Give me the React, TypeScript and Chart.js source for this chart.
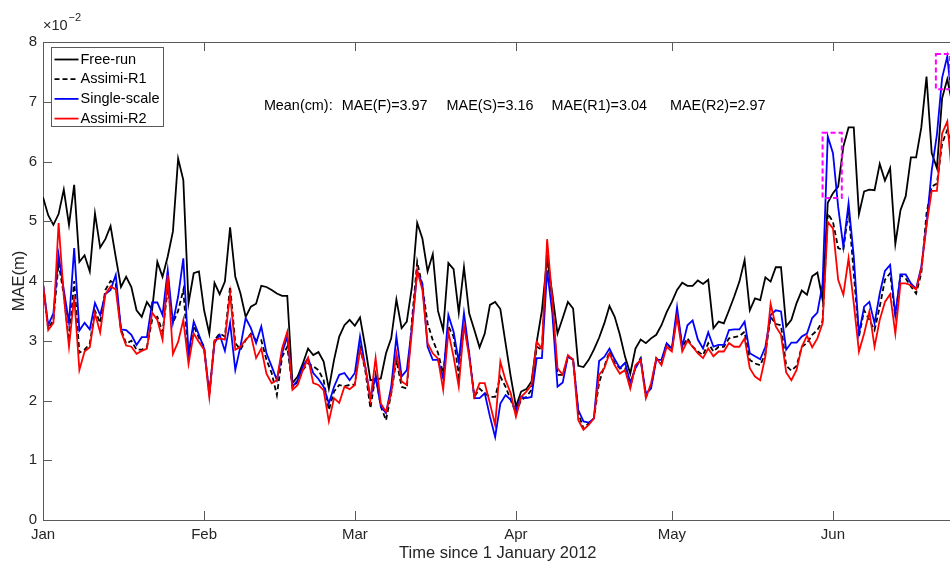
import React, { useEffect, useRef } from "react";
import { Chart, registerables } from "chart.js";

Chart.register(...registerables);

// ---------- data ----------
const MONTH_DAYS = [0, 31, 60, 91, 121, 152];
const MONTH_LABELS = ["Jan", "Feb", "Mar", "Apr", "May", "Jun"];
const SERIES_LABELS = ["Free-run", "Assimi-R1", "Single-scale", "Assimi-R2"];

// MAE values in units of 1e-2 m, one per day starting 1 January 2012
const freeRun = [
  5.40, 5.10, 4.94, 5.12, 5.53, 4.94, 5.61, 4.32, 4.43, 4.16,
  5.13, 4.56, 4.70, 4.92, 4.40, 3.90, 4.07, 3.90, 3.51, 3.40,
  3.65, 3.52, 4.32, 4.07, 4.41, 4.83, 6.05, 5.69, 3.63, 4.13,
  4.16, 3.51, 3.12, 3.97, 3.78, 3.99, 4.90, 4.07, 3.79, 3.40,
  3.57, 3.62, 3.92, 3.90, 3.85, 3.79, 3.75, 3.75, 2.29, 2.40,
  2.62, 2.87, 2.76, 2.81, 2.65, 2.20, 2.68, 3.07, 3.26, 3.35,
  3.25, 3.39, 2.90, 2.34, 2.35, 2.37, 2.79, 3.04, 3.69, 3.21,
  3.32, 3.91, 4.97, 4.71, 4.16, 4.45, 3.50, 3.18, 4.30, 4.20,
  3.47, 4.23, 3.46, 3.18, 2.89, 3.12, 3.60, 3.65, 3.53, 2.96,
  2.40, 1.90, 2.15, 2.19, 2.32, 2.98, 3.51, 4.38, 3.79, 3.12,
  3.38, 3.65, 3.54, 2.58, 2.56, 2.68, 2.85, 3.05, 3.29, 3.58,
  3.40, 3.10, 2.73, 2.45, 2.87, 3.02, 2.96, 3.04, 3.10, 3.26,
  3.48, 3.65, 3.85, 3.97, 3.92, 3.92, 4.01, 3.95, 4.02, 3.21,
  3.32, 3.29, 3.51, 3.74, 3.99, 4.35, 3.51, 3.71, 3.68, 4.06,
  3.99, 4.23, 4.23, 3.24, 3.35, 3.63, 3.84, 3.77, 4.08, 4.14,
  3.69, 5.31, 5.47, 5.58, 6.25, 6.57, 6.57, 5.12, 5.50, 5.53,
  5.52, 5.96, 5.68, 5.89, 4.62, 5.19, 5.42, 6.07, 6.07, 6.57,
  7.42, 6.14, 5.89, 7.06, 7.38, 6.95,
];

const assimiR1 = [
  3.95, 3.20, 3.35, 4.30, 3.77, 3.00, 4.00, 2.80, 2.85, 2.95,
  3.50, 3.30, 3.85, 4.00, 3.95, 3.20, 2.95, 3.00, 2.85, 2.85,
  2.90, 3.35, 3.40, 3.15, 3.85, 3.30, 3.50, 3.85, 2.70, 3.25,
  3.05, 2.90, 2.09, 3.01, 3.12, 3.07, 3.91, 2.96, 2.85, 3.01,
  3.12, 3.01, 3.01, 2.68, 2.46, 2.09, 2.73, 2.90, 2.23, 2.31,
  2.51, 2.62, 2.57, 2.51, 2.34, 1.84, 2.15, 2.26, 2.24, 2.26,
  2.27, 2.90, 2.51, 1.87, 2.43, 1.90, 1.67, 2.12, 2.68, 2.23,
  2.20, 3.35, 4.32, 3.91, 3.29, 3.01, 2.80, 2.45, 3.24, 3.07,
  2.40, 3.26, 2.79, 2.06, 2.20, 2.12, 2.06, 2.06, 2.40, 2.23,
  2.01, 1.79, 2.01, 2.06, 2.18, 2.90, 2.85, 4.52, 3.63, 2.43,
  2.43, 2.73, 2.68, 1.79, 1.53, 1.62, 1.70, 2.30, 2.57, 2.82,
  2.62, 2.54, 2.54, 2.23, 2.57, 2.71, 2.06, 2.23, 2.71, 2.62,
  2.96, 2.85, 3.46, 2.90, 3.04, 2.90, 2.82, 2.76, 2.96, 2.82,
  2.90, 2.90, 3.04, 3.06, 3.08, 3.15, 2.68, 2.62, 2.59, 2.79,
  3.40, 3.28, 3.26, 2.58, 2.50, 2.58, 2.90, 2.96, 3.10, 3.18,
  3.33, 5.13, 4.99, 4.55, 4.52, 5.19, 4.13, 3.07, 3.51, 3.35,
  3.18, 3.57, 4.02, 4.13, 3.40, 4.10, 4.04, 3.91, 3.79, 4.13,
  5.13, 5.58, 5.63, 6.30, 6.53, 6.20,
];

const singleScale = [
  3.95, 3.26, 3.46, 4.44, 3.85, 3.30, 4.55, 3.17, 3.30, 3.19,
  3.63, 3.43, 3.78, 3.85, 4.10, 3.19, 3.18, 3.10, 2.93, 3.06,
  3.06, 3.64, 3.64, 3.43, 4.18, 3.30, 3.74, 4.38, 2.79, 3.32,
  3.10, 2.87, 2.12, 2.96, 3.10, 2.83, 3.30, 2.51, 2.91, 3.38,
  3.21, 2.96, 3.24, 2.79, 2.57, 2.34, 2.79, 3.07, 2.23, 2.34,
  2.57, 2.71, 2.46, 2.36, 2.23, 1.95, 2.23, 2.43, 2.46, 2.34,
  2.46, 3.07, 2.57, 2.04, 2.40, 1.90, 1.79, 2.23, 3.07, 2.40,
  2.51, 3.24, 4.16, 3.96, 2.90, 2.68, 2.68, 2.37, 3.43, 3.15,
  2.65, 3.46, 2.79, 2.04, 2.04, 2.12, 1.73, 1.39, 1.95, 2.09,
  2.01, 1.84, 2.06, 2.04, 2.06, 2.71, 2.71, 4.18, 3.46, 2.23,
  2.30, 2.74, 2.69, 1.84, 1.65, 1.63, 1.70, 2.66, 2.73, 2.87,
  2.69, 2.54, 2.63, 2.30, 2.54, 2.69, 2.12, 2.20, 2.68, 2.68,
  2.96, 2.87, 3.56, 2.90, 3.26, 3.34, 3.02, 2.87, 3.14, 2.90,
  2.93, 2.93, 3.18, 3.19, 3.19, 3.32, 2.79, 2.74, 2.69, 2.90,
  3.43, 3.51, 3.49, 2.85, 2.97, 2.97, 3.07, 3.12, 3.38, 3.47,
  3.95, 6.42, 6.14, 5.24, 4.57, 5.30, 4.41, 3.12, 3.57, 3.65,
  3.29, 3.79, 4.17, 4.27, 3.43, 4.11, 4.11, 3.96, 3.87, 4.24,
  4.94, 5.85, 6.45, 7.40, 7.76, 6.90,
];

const assimiR2 = [
  3.95, 3.18, 3.30, 4.97, 3.75, 2.90, 3.74, 2.51, 2.82, 2.89,
  3.46, 3.14, 3.78, 3.91, 3.86, 3.16, 2.92, 2.90, 2.78, 2.83,
  2.87, 3.47, 3.35, 3.02, 4.10, 2.78, 2.98, 3.35, 2.61, 3.12,
  2.98, 2.85, 2.06, 3.01, 3.04, 3.02, 3.79, 2.85, 2.90, 3.02,
  3.10, 2.71, 2.87, 2.45, 2.29, 2.34, 2.87, 3.15, 2.18, 2.26,
  2.51, 2.71, 2.29, 2.26, 2.17, 1.65, 2.04, 1.96, 2.23, 2.19,
  2.26, 2.85, 2.57, 2.01, 2.71, 1.95, 1.81, 2.12, 2.79, 2.32,
  2.26, 3.18, 4.18, 3.85, 2.96, 2.79, 2.70, 2.18, 3.15, 2.73,
  2.23, 3.26, 2.73, 2.06, 2.29, 2.29, 1.95, 1.59, 2.65, 2.34,
  2.12, 1.73, 2.06, 2.15, 2.26, 2.98, 2.87, 4.70, 3.68, 2.54,
  2.43, 2.76, 2.68, 1.67, 1.51, 1.59, 1.70, 2.43, 2.54, 2.79,
  2.59, 2.45, 2.51, 2.20, 2.59, 2.68, 2.04, 2.29, 2.71, 2.59,
  2.90, 2.82, 3.40, 2.82, 3.00, 2.90, 2.79, 2.71, 2.87, 2.74,
  2.82, 2.82, 2.96, 2.90, 2.90, 3.04, 2.54, 2.40, 2.34, 2.74,
  3.62, 3.24, 3.10, 2.47, 2.34, 2.51, 2.90, 3.08, 2.89, 3.04,
  3.29, 4.99, 4.88, 4.02, 3.77, 4.38, 3.63, 2.82, 3.12, 3.49,
  2.90, 3.35, 3.65, 3.78, 3.12, 3.96, 3.96, 3.93, 3.86, 4.20,
  4.93, 5.51, 5.51, 6.47, 6.67, 5.66,
];

const MEAN_TEXT = ["Mean(cm):", "MAE(F)=3.97", "MAE(S)=3.16", "MAE(R1)=3.04", "MAE(R2)=2.97"];
const MEAN_ANCHOR = { day: 42.5, value: 6.92 };
const HIGHLIGHT_BOXES = [
  { x0: 150.0, x1: 153.7, y0: 5.39, y1: 6.48 },
  { x0: 171.8, x1: 174.5, y0: 7.21, y1: 7.8 },
];

// ---------- style ----------
const FONT = "'Liberation Sans', Arial, Helvetica, sans-serif";
const AXIS = "#5a5a5a";
const TEXT = "#262626";

const toXY = (arr: number[]) => arr.map((v, i) => ({ x: i, y: v }));

const decorPlugin = {
  id: "decor",
  afterDraw(chart: any) {
    const { ctx, chartArea, scales } = chart;
    const { left, right, top, bottom } = chartArea;
    const xs = scales.x;
    const ys = scales.y;
    ctx.save();

    // top border
    ctx.strokeStyle = AXIS;
    ctx.lineWidth = 1;
    ctx.setLineDash([]);
    ctx.beginPath();
    ctx.moveTo(left, Math.round(top) + 0.5);
    ctx.lineTo(right, Math.round(top) + 0.5);
    ctx.stroke();

    // inward ticks
    const TL = 9;
    ctx.beginPath();
    for (const t of xs.ticks) {
      const px = Math.round(xs.getPixelForValue(t.value)) + 0.5;
      ctx.moveTo(px, bottom);
      ctx.lineTo(px, bottom - TL);
      ctx.moveTo(px, top);
      ctx.lineTo(px, top + TL);
    }
    for (const t of ys.ticks) {
      const py = Math.round(ys.getPixelForValue(t.value)) + 0.5;
      ctx.moveTo(left, py);
      ctx.lineTo(left + TL, py);
    }
    ctx.stroke();

    // exponent label
    ctx.fillStyle = TEXT;
    ctx.textAlign = "left";
    ctx.textBaseline = "alphabetic";
    ctx.font = `14.5px ${FONT}`;
    const base = "\u00d710";
    ctx.fillText(base, left, 30);
    const bw = ctx.measureText(base).width;
    ctx.font = `11px ${FONT}`;
    ctx.fillText("\u22122", left + bw + 1, 21);

    // mean annotation
    ctx.font = `14.4px ${FONT}`;
    ctx.textBaseline = "middle";
    ctx.fillStyle = "#000";
    const gaps = [9, 19, 18, 23];
    let tx = xs.getPixelForValue(MEAN_ANCHOR.day);
    const ty = ys.getPixelForValue(MEAN_ANCHOR.value);
    MEAN_TEXT.forEach((s, i) => {
      ctx.fillText(s, tx, ty);
      tx += ctx.measureText(s).width + (gaps[i] || 0);
    });

    // highlight boxes
    ctx.strokeStyle = "#ff00ff";
    ctx.lineWidth = 2;
    ctx.setLineDash([5, 3]);
    for (const b of HIGHLIGHT_BOXES) {
      const x0 = xs.getPixelForValue(b.x0);
      const x1 = xs.getPixelForValue(b.x1);
      const y0 = ys.getPixelForValue(b.y0);
      const y1 = ys.getPixelForValue(b.y1);
      ctx.strokeRect(x0, y1, x1 - x0, y0 - y1);
    }
    ctx.setLineDash([]);

    // legend
    const lx = Math.round(left + 8) + 0.5;
    const ly = Math.round(top + 5) + 0.5;
    const lw = 112;
    const lh = 79;
    ctx.fillStyle = "#fff";
    ctx.fillRect(lx, ly, lw, lh);
    ctx.strokeStyle = AXIS;
    ctx.lineWidth = 1;
    ctx.strokeRect(lx, ly, lw, lh);
    ctx.font = `14.5px ${FONT}`;
    ctx.textBaseline = "middle";
    SERIES_LABELS.forEach((label, i) => {
      const ds = chart.data.datasets.find((d: any) => d.label === label);
      const ry = ly + 12 + i * 19.7;
      ctx.strokeStyle = ds.borderColor;
      ctx.lineWidth = ds.borderWidth;
      ctx.setLineDash(ds.borderDash || []);
      ctx.beginPath();
      ctx.moveTo(lx + 3, ry);
      ctx.lineTo(lx + 27, ry);
      ctx.stroke();
      ctx.setLineDash([]);
      ctx.fillStyle = "#000";
      ctx.fillText(label, lx + 29, ry);
    });

    ctx.restore();
  },
};

export default function App() {
  const canvasRef = useRef<HTMLCanvasElement | null>(null);

  useEffect(() => {
    const canvas = canvasRef.current;
    if (!canvas) return;
    const chart = new Chart(canvas, {
      type: "line",
      data: {
        datasets: [
          {
            label: SERIES_LABELS[0],
            data: toXY(freeRun),
            borderColor: "#000000",
            borderWidth: 1.8,
            pointRadius: 0,
            tension: 0,
            order: 4,
          },
          {
            label: SERIES_LABELS[1],
            data: toXY(assimiR1),
            borderColor: "#000000",
            borderWidth: 1.8,
            borderDash: [5, 3],
            pointRadius: 0,
            tension: 0,
            order: 3,
          },
          {
            label: SERIES_LABELS[2],
            data: toXY(singleScale),
            borderColor: "#0000ff",
            borderWidth: 1.8,
            pointRadius: 0,
            tension: 0,
            order: 2,
          },
          {
            label: SERIES_LABELS[3],
            data: toXY(assimiR2),
            borderColor: "#ff0000",
            borderWidth: 1.8,
            pointRadius: 0,
            tension: 0,
            order: 1,
          },
        ],
      },
      options: {
        animation: false,
        responsive: false,
        devicePixelRatio: 1,
        layout: { padding: { left: 0, right: 7.5, top: 42, bottom: 0 } },
        plugins: { legend: { display: false }, tooltip: { enabled: false } },
        scales: {
          x: {
            type: "linear",
            min: 0,
            max: 175,
            afterBuildTicks: (s: any) => {
              s.ticks = MONTH_DAYS.map((v) => ({ value: v }));
            },
            afterFit: (s: any) => {
              s.height = 43;
            },
            ticks: {
              autoSkip: false,
              maxRotation: 0,
              padding: 6,
              color: TEXT,
              font: { family: FONT, size: 15 },
              callback: (v: any) => {
                const i = MONTH_DAYS.indexOf(Number(v));
                return i >= 0 ? MONTH_LABELS[i] : "";
              },
            },
            grid: { display: false, drawTicks: false },
            border: { display: true, color: AXIS, width: 1 },
            title: {
              display: true,
              text: "Time since 1 January 2012",
              color: TEXT,
              font: { family: FONT, size: 16.5 },
              padding: { top: 0, bottom: 0 },
            },
          },
          y: {
            min: 0,
            max: 8,
            afterFit: (s: any) => {
              s.width = 43;
            },
            ticks: {
              stepSize: 1,
              padding: 6,
              color: TEXT,
              font: { family: FONT, size: 15 },
            },
            grid: { display: false, drawTicks: false },
            border: { display: true, color: AXIS, width: 1 },
            title: {
              display: true,
              text: "MAE(m)",
              color: TEXT,
              font: { family: FONT, size: 16.5 },
              padding: { top: 10, bottom: 0 },
            },
          },
        },
      },
      plugins: [decorPlugin],
    });
    return () => chart.destroy();
  }, []);

  return (
    <div
      style={{
        position: "fixed",
        left: 0,
        top: 0,
        width: 950,
        height: 563,
        overflow: "hidden",
        background: "#fff",
      }}
    >
      <canvas ref={canvasRef} width={960} height={563} style={{ display: "block" }} />
    </div>
  );
}
